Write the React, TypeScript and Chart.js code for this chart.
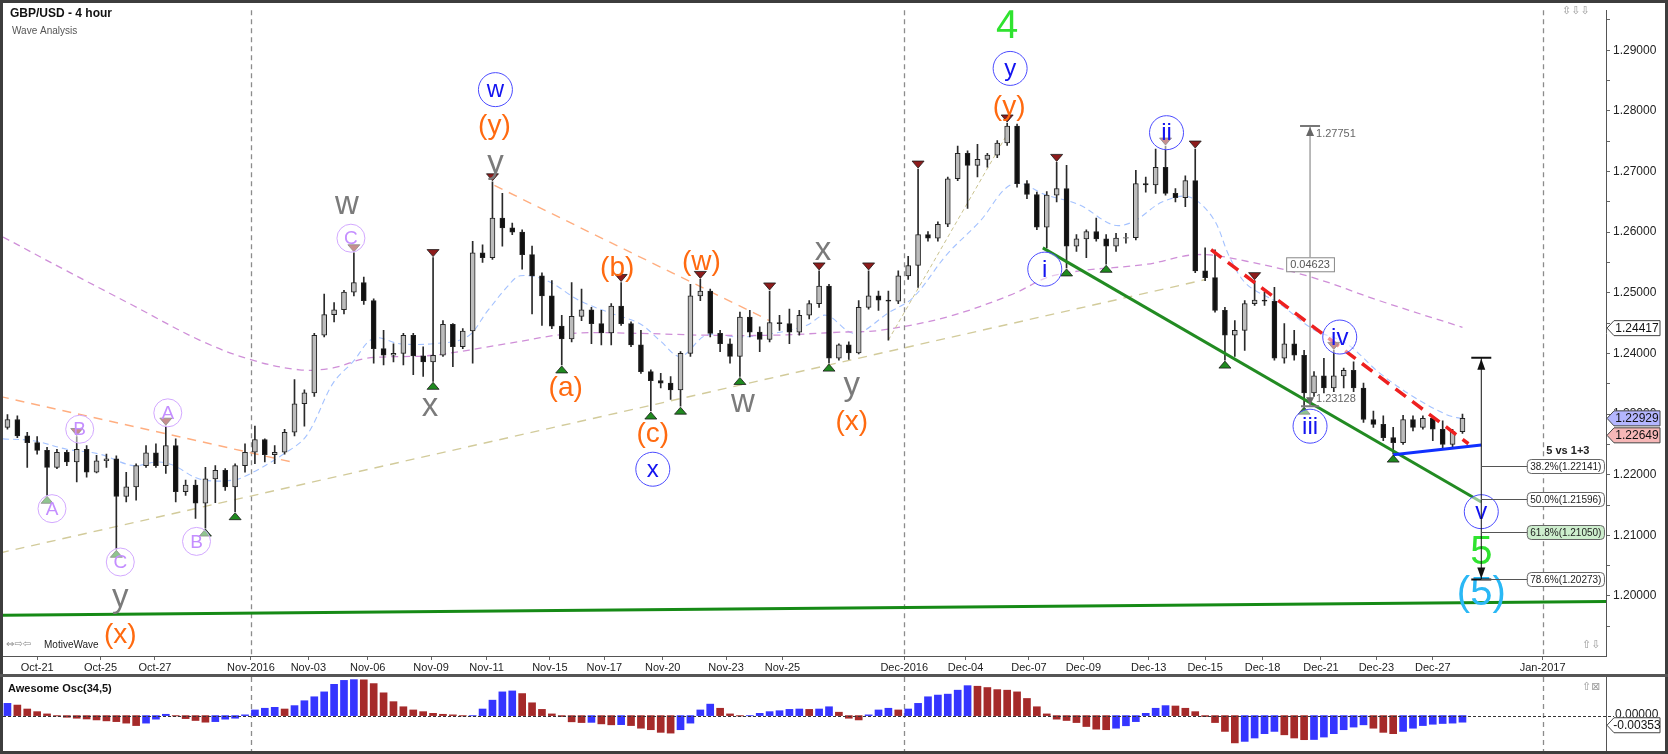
import React, { useEffect, useRef } from 'react';
import { Chart, registerables } from 'chart.js';

Chart.register(...registerables);

// ---- price data: one candle per two 4-hour bars (index 0 = Oct-20) ----
const candleOpen = [
  1.2278, 1.2291, 1.2264, 1.2253, 1.2240, 1.2212, 1.2237, 1.2221, 1.2242, 1.2204,
  1.2223, 1.2226, 1.2164, 1.2180, 1.2215, 1.2236, 1.2215, 1.2248, 1.2172, 1.2183,
  1.2153, 1.2193, 1.2207, 1.2180, 1.2215, 1.2237, 1.2258, 1.2233, 1.2237, 1.2270,
  1.2317, 1.2335, 1.2430, 1.2464, 1.2472, 1.2501, 1.2517, 1.2487, 1.2408, 1.2397,
  1.2400, 1.2430, 1.2396, 1.2386, 1.2397, 1.2448, 1.2411, 1.2437, 1.2566, 1.2558,
  1.2623, 1.2607, 1.2600, 1.2563, 1.2528, 1.2495, 1.2445, 1.2424, 1.2461, 1.2472,
  1.2449, 1.2434, 1.2478, 1.2449, 1.2414, 1.2370, 1.2355, 1.2351, 1.2340, 1.2400,
  1.2495, 1.2503, 1.2433, 1.2416, 1.2395, 1.2460, 1.2435, 1.2423, 1.2451, 1.2449,
  1.2435, 1.2463, 1.2482, 1.2511, 1.2392, 1.2414, 1.2401, 1.2476, 1.2495, 1.2488,
  1.2486, 1.2528, 1.2545, 1.2596, 1.2590, 1.2613, 1.2688, 1.2730, 1.2710, 1.2720,
  1.2727, 1.2747, 1.2775, 1.2680, 1.2662, 1.2608, 1.2661, 1.2672, 1.2577, 1.2589,
  1.2601, 1.2589, 1.2577, 1.2590, 1.2591, 1.2680, 1.2678, 1.2707, 1.2664, 1.2657,
  1.2685, 1.2536, 1.2525, 1.2471, 1.2430, 1.2438, 1.2482, 1.2488, 1.2486, 1.2392,
  1.2416, 1.2397, 1.2335, 1.2363, 1.2343, 1.2363, 1.2372, 1.2343, 1.2291, 1.2283,
  1.2261, 1.2253, 1.2291, 1.2278, 1.2293, 1.2275, 1.2250, 1.2271,
];
const candleHigh = [
  1.2299, 1.2297, 1.2270, 1.2263, 1.2245, 1.2242, 1.2240, 1.2263, 1.2248, 1.2232,
  1.2234, 1.2231, 1.2204, 1.2218, 1.2248, 1.2251, 1.2280, 1.2259, 1.2191, 1.2191,
  1.2212, 1.2215, 1.2210, 1.2218, 1.2251, 1.2280, 1.2259, 1.2248, 1.2275, 1.2357,
  1.2340, 1.2433, 1.2498, 1.2484, 1.2504, 1.2566, 1.2526, 1.2490, 1.2438, 1.2416,
  1.2433, 1.2433, 1.2411, 1.2558, 1.2454, 1.2449, 1.2441, 1.2585, 1.2579, 1.2683,
  1.2664, 1.2615, 1.2604, 1.2577, 1.2533, 1.2520, 1.2463, 1.2517, 1.2506, 1.2476,
  1.2471, 1.2482, 1.2517, 1.2452, 1.2438, 1.2373, 1.2367, 1.2362, 1.2403, 1.2514,
  1.2522, 1.2506, 1.2438, 1.2424, 1.2468, 1.2471, 1.2444, 1.2503, 1.2463, 1.2473,
  1.2471, 1.2487, 1.2536, 1.2514, 1.2416, 1.2419, 1.2487, 1.2536, 1.2503, 1.2503,
  1.2536, 1.2560, 1.2704, 1.2601, 1.2617, 1.2691, 1.2742, 1.2734, 1.2745, 1.2730,
  1.2751, 1.2780, 1.2778, 1.2685, 1.2666, 1.2667, 1.2715, 1.2710, 1.2596, 1.2604,
  1.2623, 1.2596, 1.2598, 1.2598, 1.2702, 1.2691, 1.2737, 1.2742, 1.2672, 1.2693,
  1.2737, 1.2574, 1.2571, 1.2476, 1.2454, 1.2487, 1.2520, 1.2501, 1.2509, 1.2449,
  1.2438, 1.2405, 1.2370, 1.2392, 1.2405, 1.2376, 1.2386, 1.2351, 1.2305, 1.2297,
  1.2278, 1.2298, 1.2297, 1.2297, 1.2296, 1.2289, 1.2275, 1.2300,
];
const candleLow = [
  1.2275, 1.2261, 1.2212, 1.2234, 1.2166, 1.2210, 1.2215, 1.2188, 1.2196, 1.2203,
  1.2212, 1.2077, 1.2155, 1.2158, 1.2212, 1.2212, 1.2202, 1.2155, 1.2166, 1.2128,
  1.2112, 1.2154, 1.2174, 1.2139, 1.2204, 1.2218, 1.2221, 1.2218, 1.2234, 1.2264,
  1.2280, 1.2329, 1.2427, 1.2452, 1.2465, 1.2495, 1.2481, 1.2384, 1.2381, 1.2386,
  1.2381, 1.2365, 1.2362, 1.2354, 1.2395, 1.2378, 1.2408, 1.2384, 1.2550, 1.2555,
  1.2577, 1.2596, 1.2539, 1.2465, 1.2446, 1.2441, 1.2381, 1.2419, 1.2454, 1.2416,
  1.2414, 1.2414, 1.2446, 1.2411, 1.2367, 1.2305, 1.2343, 1.2324, 1.2313, 1.2395,
  1.2487, 1.2427, 1.2403, 1.2384, 1.2362, 1.2427, 1.2403, 1.2419, 1.2438, 1.2416,
  1.2430, 1.2457, 1.2476, 1.2384, 1.2389, 1.2390, 1.2399, 1.2473, 1.2471, 1.2422,
  1.2482, 1.2522, 1.2509, 1.2585, 1.2585, 1.2609, 1.2685, 1.2639, 1.2691, 1.2707,
  1.2723, 1.2743, 1.2674, 1.2655, 1.2604, 1.2574, 1.2650, 1.2541, 1.2568, 1.2558,
  1.2585, 1.2547, 1.2568, 1.2582, 1.2587, 1.2666, 1.2664, 1.2661, 1.2650, 1.2642,
  1.2533, 1.2520, 1.2468, 1.2389, 1.2395, 1.2405, 1.2479, 1.2479, 1.2389, 1.2384,
  1.2389, 1.2313, 1.2329, 1.2335, 1.2337, 1.2343, 1.2337, 1.2286, 1.2278, 1.2256,
  1.2234, 1.2250, 1.2272, 1.2275, 1.2256, 1.2242, 1.2245, 1.2268,
];
const candleClose = [
  1.2291, 1.2264, 1.2253, 1.2240, 1.2212, 1.2237, 1.2221, 1.2242, 1.2204, 1.2223,
  1.2226, 1.2164, 1.2180, 1.2215, 1.2236, 1.2215, 1.2248, 1.2172, 1.2183, 1.2153,
  1.2193, 1.2207, 1.2180, 1.2215, 1.2237, 1.2258, 1.2233, 1.2237, 1.2270, 1.2317,
  1.2335, 1.2430, 1.2464, 1.2472, 1.2501, 1.2517, 1.2487, 1.2408, 1.2397, 1.2400,
  1.2430, 1.2396, 1.2386, 1.2397, 1.2448, 1.2411, 1.2437, 1.2566, 1.2558, 1.2623,
  1.2607, 1.2600, 1.2563, 1.2528, 1.2495, 1.2445, 1.2424, 1.2461, 1.2472, 1.2449,
  1.2434, 1.2478, 1.2449, 1.2414, 1.2370, 1.2355, 1.2351, 1.2340, 1.2400, 1.2495,
  1.2503, 1.2433, 1.2416, 1.2395, 1.2460, 1.2435, 1.2423, 1.2451, 1.2449, 1.2435,
  1.2463, 1.2482, 1.2511, 1.2392, 1.2414, 1.2401, 1.2476, 1.2495, 1.2488, 1.2486,
  1.2528, 1.2545, 1.2596, 1.2590, 1.2613, 1.2688, 1.2730, 1.2710, 1.2720, 1.2727,
  1.2747, 1.2775, 1.2680, 1.2662, 1.2608, 1.2661, 1.2672, 1.2577, 1.2589, 1.2601,
  1.2589, 1.2577, 1.2590, 1.2591, 1.2680, 1.2678, 1.2707, 1.2664, 1.2657, 1.2685,
  1.2536, 1.2525, 1.2471, 1.2430, 1.2438, 1.2482, 1.2488, 1.2486, 1.2392, 1.2416,
  1.2397, 1.2335, 1.2363, 1.2343, 1.2363, 1.2372, 1.2343, 1.2291, 1.2283, 1.2261,
  1.2253, 1.2291, 1.2278, 1.2293, 1.2275, 1.2250, 1.2271, 1.2293,
];

// Awesome Oscillator (34,5), one value per candle
const aoValues = [
  0.0065, 0.0056, 0.0035, 0.0021, 0.0009, -0.0002, -0.0009, -0.0014, -0.0018, -0.0023,
  -0.0028, -0.0032, -0.0040, -0.0053, -0.0040, -0.0019, 0.0007, -0.0002, -0.0016, -0.0026,
  -0.0035, -0.0032, -0.0019, -0.0014, 0.0004, 0.0030, 0.0039, 0.0044, 0.0035, 0.0053,
  0.0079, 0.0100, 0.0126, 0.0166, 0.0187, 0.0191, 0.0190, 0.0170, 0.0121, 0.0074,
  0.0047, 0.0030, 0.0021, 0.0012, 0.0007, 0.0004, -0.0002, -0.0001, 0.0035, 0.0082,
  0.0126, 0.0131, 0.0117, 0.0068, 0.0033, 0.0009, -0.0005, -0.0033, -0.0037, -0.0036,
  -0.0044, -0.0049, -0.0048, -0.0053, -0.0067, -0.0075, -0.0089, -0.0093, -0.0075, -0.0040,
  0.0030, 0.0061, 0.0039, 0.0009, -0.0002, -0.0001, 0.0012, 0.0021, 0.0026, 0.0033,
  0.0035, 0.0033, 0.0035, 0.0047, 0.0018, -0.0014, -0.0023, 0.0004, 0.0030, 0.0039,
  0.0030, 0.0035, 0.0065, 0.0100, 0.0109, 0.0114, 0.0135, 0.0159, 0.0156, 0.0149,
  0.0138, 0.0135, 0.0126, 0.0091, 0.0047, 0.0009, -0.0019, -0.0026, -0.0037, -0.0058,
  -0.0072, -0.0075, -0.0067, -0.0054, -0.0032, 0.0012, 0.0039, 0.0053, 0.0051, 0.0039,
  0.0021, -0.0005, -0.0037, -0.0084, -0.0145, -0.0137, -0.0119, -0.0096, -0.0084, -0.0102,
  -0.0119, -0.0128, -0.0127, -0.0114, -0.0096, -0.0075, -0.0061, -0.0049, -0.0067, -0.0089,
  -0.0096, -0.0084, -0.0067, -0.0053, -0.0046, -0.0042, -0.0040, -0.0035,
];

// x axis (candle index units) tick positions and their labels
const xTickPositions = [3.0, 9.4, 14.9, 24.6, 30.4, 36.4, 42.8, 48.4, 54.8, 60.3, 66.2, 72.6, 78.3, 90.6, 96.8, 103.2, 108.7, 115.3, 121.0, 126.8, 132.7, 138.3, 144.0, 155.1];
const xTickLabels = ['Oct-21', 'Oct-25', 'Oct-27', 'Nov-2016', 'Nov-03', 'Nov-06', 'Nov-09', 'Nov-11', 'Nov-15', 'Nov-17', 'Nov-20', 'Nov-23', 'Nov-25', 'Dec-2016', 'Dec-04', 'Dec-07', 'Dec-09', 'Dec-13', 'Dec-15', 'Dec-18', 'Dec-21', 'Dec-23', 'Dec-27', 'Jan-2017'];
const priceTickLabels = [1.20, 1.21, 1.22, 1.23, 1.24, 1.25, 1.26, 1.27, 1.28, 1.29];

// moving averages [candle index, price]
const fastMa = [[-0.45, 1.2259], [2.6, 1.2256], [6.0, 1.2242], [9.3, 1.2234], [12.7, 1.2215], [15.1, 1.2221], [16.7, 1.2216], [19.4, 1.2193], [22.8, 1.2191], [24.8, 1.2204], [27.9, 1.2234], [30.2, 1.2264], [32.9, 1.2351], [34.9, 1.2386], [37.0, 1.2425], [39.6, 1.2416], [43.0, 1.2416], [46.4, 1.2427], [48.5, 1.2470], [50.5, 1.2510], [51.8, 1.2528], [54.5, 1.2520], [57.8, 1.2487], [61.2, 1.2465], [63.9, 1.2449], [66.0, 1.2420], [68.0, 1.2395], [70.6, 1.2430], [74.0, 1.2427], [77.4, 1.2433], [80.7, 1.2446], [82.7, 1.2463], [85.6, 1.2433], [89.1, 1.2468], [91.5, 1.2492], [94.9, 1.2563], [98.2, 1.2617], [101.6, 1.2680], [105.0, 1.2661], [108.3, 1.2645], [111.7, 1.2612], [113.7, 1.2617], [116.7, 1.2650], [119.4, 1.2658], [121.8, 1.2623], [123.5, 1.2558], [125.2, 1.2514], [128.5, 1.2482], [131.9, 1.2440], [135.3, 1.2416], [138.6, 1.2368], [142.0, 1.2329], [145.4, 1.2299], [147.0, 1.2292]];
const slowMa = [[-0.45, 1.2592], [6.0, 1.2536], [12.7, 1.2479], [19.4, 1.2422], [24.5, 1.2390], [29.5, 1.2373], [32.9, 1.2376], [36.3, 1.2392], [43.0, 1.2397], [50.4, 1.2416], [57.1, 1.2433], [63.9, 1.2433], [70.6, 1.2430], [77.4, 1.2430], [84.1, 1.2435], [88.1, 1.2438], [94.9, 1.2460], [101.6, 1.2498], [105.0, 1.2525], [108.3, 1.2536], [115.1, 1.2547], [120.2, 1.2563], [125.2, 1.2552], [131.9, 1.2525], [138.6, 1.2487], [147.0, 1.2443]];

// trend lines [candle index, price]
const beigeLongLine = [[-0.76, 1.2071], [121.1, 1.2522]];
const beigeShortLine = [[89.0, 1.2422], [101.3, 1.2770]];
const orangeLine1 = [[-0.76, 1.2329], [28.7, 1.2221]];
const orangeLine2 = [[49.2, 1.2677], [77.0, 1.2454]];
const greenSupport = [[-0.45, 1.1968], [161.5, 1.1991]];
const greenChannel = [[104.6, 1.2574], [148.9, 1.2155]];
const blueLine = [[140.0, 1.2233], [148.9, 1.2249]];
const redResistance = [[121.6, 1.2571], [147.6, 1.2251]];

// swing markers (candle indices)
const swingLows = [4, 11, 20, 23, 43, 56, 65, 68, 74, 83, 107, 111, 123, 131, 140];
const swingHighs = [7, 16, 35, 43, 49, 62, 70, 77, 82, 87, 92, 101, 106, 117, 120, 126, 134];

// wave labels
const waveLabels = [
  { t: '4', k: 101.0, p: 1.2938, s: 'green' },
  { t: '5', k: 148.9, p: 1.2071, s: 'green' },
  { t: '(5)', k: 148.9, p: 1.2004, s: 'cyan' },
  { t: 'y', k: 101.3, p: 1.2870, s: 'blue' },
  { t: 'ii', k: 117.1, p: 1.2764, s: 'blue' },
  { t: 'i', k: 104.8, p: 1.2539, s: 'blue' },
  { t: 'iii', k: 131.6, p: 1.2280, s: 'blue' },
  { t: 'iv', k: 134.6, p: 1.2427, s: 'blue' },
  { t: 'v', k: 148.9, p: 1.2139, s: 'blue' },
  { t: 'w', k: 49.3, p: 1.2835, s: 'blue' },
  { t: 'x', k: 65.2, p: 1.2209, s: 'blue' },
  { t: '(y)', k: 101.2, p: 1.2806, s: 'orange' },
  { t: '(y)', k: 49.2, p: 1.2775, s: 'orange' },
  { t: '(a)', k: 56.4, p: 1.2343, s: 'orange' },
  { t: '(b)', k: 61.6, p: 1.2541, s: 'orange' },
  { t: '(c)', k: 65.2, p: 1.2267, s: 'orange' },
  { t: '(w)', k: 70.1, p: 1.2550, s: 'orange' },
  { t: '(x)', k: 85.3, p: 1.2286, s: 'orange' },
  { t: '(x)', k: 11.4, p: 1.1935, s: 'orange' },
  { t: 'y', k: 49.3, p: 1.2713, s: 'gray' },
  { t: 'w', k: 34.3, p: 1.2645, s: 'gray' },
  { t: 'x', k: 42.7, p: 1.2312, s: 'gray' },
  { t: 'w', k: 74.3, p: 1.2318, s: 'gray' },
  { t: 'x', k: 82.4, p: 1.2569, s: 'gray' },
  { t: 'y', k: 85.3, p: 1.2346, s: 'gray' },
  { t: 'y', k: 11.4, p: 1.1996, s: 'gray' },
  { t: 'C', k: 34.7, p: 1.2590, s: 'purple' },
  { t: 'A', k: 4.5, p: 1.2144, s: 'purple' },
  { t: 'B', k: 7.3, p: 1.2275, s: 'purple' },
  { t: 'A', k: 16.2, p: 1.2302, s: 'purple' },
  { t: 'B', k: 19.1, p: 1.2090, s: 'purple' },
  { t: 'C', k: 11.4, p: 1.2056, s: 'purple' },
];

// measurement tools
const measureGray = { k: 131.6, from: 1.23128, to: 1.27751, boxAt: 1.2547 };
const measureBlack = { k: 148.9, from: 1.2027, to: 1.2393 };
const fibRatios = [0.382, 0.5, 0.618, 0.786];
const fibPrices = [1.22141, 1.21596, 1.2105, 1.20273];
const priceTags = [1.24417, 1.22929, 1.22649];
const aoLast = -0.00353;

// ---- layout / style ----
const W = 1668;
const MAIN_H = 676;
const OSC_H = 78;
const X_MIN = -0.45;
const X_MAX = 161.5;
const Y_MIN = 1.1901;
const Y_MAX = 1.2966;
const AO_MIN = -0.0188;
const AO_MAX = 0.0205;
const FONT = '"Liberation Sans", Arial, Helvetica, sans-serif';

const LABEL_STYLE: Record<string, { color: string; size: number; circle: number; ring?: string }> = {
  green: { color: '#2fe32f', size: 40, circle: 0 },
  cyan: { color: '#2ab8f5', size: 40, circle: 0 },
  blue: { color: '#1414f0', size: 24, circle: 17, ring: '#4b4bff' },
  orange: { color: '#ff6a10', size: 28, circle: 0 },
  gray: { color: '#7b7b7b', size: 33, circle: 0 },
  purple: { color: '#c48eff', size: 19, circle: 14, ring: '#d2a8ff' },
};

const monthLines = xTickPositions.filter((_, i) => /\d{4}/.test(xTickLabels[i]));
const toXY = (pts: number[][]) => pts.map(([x, y]) => ({ x, y }));

function line(ctx: CanvasRenderingContext2D, x1: number, y1: number, x2: number, y2: number) {
  ctx.beginPath();
  ctx.moveTo(x1, y1);
  ctx.lineTo(x2, y2);
  ctx.stroke();
}

function rrect(ctx: CanvasRenderingContext2D, x: number, y: number, w: number, h: number, r: number) {
  ctx.beginPath();
  ctx.moveTo(x + r, y);
  ctx.lineTo(x + w - r, y);
  ctx.quadraticCurveTo(x + w, y, x + w, y + r);
  ctx.lineTo(x + w, y + h - r);
  ctx.quadraticCurveTo(x + w, y + h, x + w - r, y + h);
  ctx.lineTo(x + r, y + h);
  ctx.quadraticCurveTo(x, y + h, x, y + h - r);
  ctx.lineTo(x, y + r);
  ctx.quadraticCurveTo(x, y, x + r, y);
  ctx.closePath();
}

function tri(ctx: CanvasRenderingContext2D, x: number, yApex: number, up: boolean, color: string) {
  const w = 6;
  const h = 7;
  ctx.beginPath();
  ctx.moveTo(x, yApex);
  ctx.lineTo(x - w, up ? yApex + h : yApex - h);
  ctx.lineTo(x + w, up ? yApex + h : yApex - h);
  ctx.closePath();
  ctx.fillStyle = color;
  ctx.fill();
  ctx.strokeStyle = '#1a1a1a';
  ctx.lineWidth = 0.8;
  ctx.stroke();
}

function tag(ctx: CanvasRenderingContext2D, xLeft: number, yc: number, text: string, fill: string) {
  const h = 15;
  const tip = 7;
  const w = 46;
  ctx.beginPath();
  ctx.moveTo(xLeft, yc);
  ctx.lineTo(xLeft + tip, yc - h / 2);
  ctx.lineTo(xLeft + tip + w, yc - h / 2);
  ctx.lineTo(xLeft + tip + w, yc + h / 2);
  ctx.lineTo(xLeft + tip, yc + h / 2);
  ctx.closePath();
  ctx.fillStyle = fill;
  ctx.fill();
  ctx.strokeStyle = '#444';
  ctx.lineWidth = 1;
  ctx.stroke();
  ctx.fillStyle = '#111';
  ctx.font = `12px ${FONT}`;
  ctx.textAlign = 'center';
  ctx.textBaseline = 'middle';
  ctx.fillText(text, xLeft + tip + w / 2, yc + 0.5);
}

const mainOverlay = {
  id: 'mainOverlay',
  beforeDatasetsDraw(chart: any) {
    const { ctx, chartArea: a, scales } = chart;
    ctx.save();
    ctx.strokeStyle = '#8c8c8c';
    ctx.lineWidth = 1.3;
    ctx.setLineDash([5, 4]);
    monthLines.forEach((v) => {
      const px = Math.round(scales.x.getPixelForValue(v)) + 0.5;
      line(ctx, px, a.top, px, a.bottom);
    });
    ctx.restore();
  },
  afterDatasetsDraw(chart: any) {
    const { ctx, chartArea: a, scales } = chart;
    const X = (v: number) => scales.x.getPixelForValue(v);
    const Y = (v: number) => scales.y.getPixelForValue(v);
    ctx.save();
    ctx.beginPath();
    ctx.rect(a.left, a.top, a.right - a.left, a.bottom - a.top);
    ctx.clip();

    // swing markers
    swingLows.forEach((i) => tri(ctx, X(i), Y(candleLow[i]) + 1, true, '#1f8a1f'));
    swingHighs.forEach((i) => tri(ctx, X(i), Y(candleHigh[i]) - 1, false, '#8e1c1c'));

    // gray measurement
    ctx.setLineDash([]);
    const gx = X(measureGray.k);
    const gt = Y(measureGray.to);
    const gb = Y(measureGray.from);
    ctx.strokeStyle = '#777';
    ctx.lineWidth = 1;
    line(ctx, gx, gt, gx, gb);
    ctx.lineWidth = 2;
    line(ctx, gx - 10, gt, gx + 10, gt);
    line(ctx, gx - 9, gb, gx + 9, gb);
    ctx.fillStyle = '#666';
    ctx.beginPath(); ctx.moveTo(gx, gt + 1); ctx.lineTo(gx - 4, gt + 10); ctx.lineTo(gx + 4, gt + 10); ctx.closePath(); ctx.fill();
    ctx.beginPath(); ctx.moveTo(gx, gb - 1); ctx.lineTo(gx - 4, gb - 9); ctx.lineTo(gx + 4, gb - 9); ctx.closePath(); ctx.fill();
    ctx.font = `11px ${FONT}`;
    ctx.textAlign = 'left';
    ctx.textBaseline = 'middle';
    ctx.fillStyle = '#666';
    ctx.fillText(measureGray.to.toFixed(5), gx + 6, gt + 8);
    ctx.fillText(measureGray.from.toFixed(5), gx + 6, gb - 7);
    const diff = (measureGray.to - measureGray.from).toFixed(5);
    const by = Y(measureGray.boxAt);
    const dw = ctx.measureText(diff).width + 8;
    ctx.fillStyle = '#fff';
    ctx.fillRect(gx - dw / 2, by - 7, dw, 14);
    ctx.strokeStyle = '#888';
    ctx.lineWidth = 1;
    ctx.strokeRect(gx - dw / 2 + 0.5, by - 7 + 0.5, dw, 14);
    ctx.fillStyle = '#555';
    ctx.textAlign = 'center';
    ctx.fillText(diff, gx, by + 0.5);

    // wave labels
    waveLabels.forEach((l) => {
      const st = LABEL_STYLE[l.s];
      const x = X(l.k);
      const y = Y(l.p);
      if (st.circle) {
        ctx.beginPath();
        ctx.arc(x, y, st.circle, 0, Math.PI * 2);
        ctx.fillStyle = 'rgba(255,255,255,0.5)';
        ctx.fill();
        ctx.lineWidth = 1;
        ctx.strokeStyle = st.ring;
        ctx.stroke();
      }
      ctx.font = `${st.size}px ${FONT}`;
      ctx.fillStyle = st.color;
      ctx.textAlign = 'center';
      ctx.textBaseline = 'middle';
      ctx.fillText(l.t, x, y + (st.circle ? 1 : 0));
    });

    // black measurement
    const bx = X(measureBlack.k);
    const bt = Y(measureBlack.to);
    const bb = Y(measureBlack.from);
    ctx.strokeStyle = '#111';
    ctx.lineWidth = 1;
    line(ctx, bx, bt, bx, bb);
    ctx.lineWidth = 2;
    line(ctx, bx - 10, bt, bx + 10, bt);
    line(ctx, bx - 10, bb, bx + 10, bb);
    ctx.fillStyle = '#111';
    ctx.beginPath(); ctx.moveTo(bx, bt + 1); ctx.lineTo(bx - 4, bt + 12); ctx.lineTo(bx + 4, bt + 12); ctx.closePath(); ctx.fill();
    ctx.beginPath(); ctx.moveTo(bx, bb - 1); ctx.lineTo(bx - 4, bb - 12); ctx.lineTo(bx + 4, bb - 12); ctx.closePath(); ctx.fill();
    ctx.restore();

    // fib levels
    ctx.save();
    const boxLeft = bx + 46;
    ctx.font = `10px ${FONT}`;
    fibPrices.forEach((p, i) => {
      const y = Math.round(Y(p)) + 0.5;
      ctx.strokeStyle = '#555';
      ctx.lineWidth = 1;
      line(ctx, bx, y, boxLeft, y);
      const txt = `${(fibRatios[i] * 100).toFixed(1)}%(${p.toFixed(5)})`;
      const w = ctx.measureText(txt).width + 6;
      rrect(ctx, boxLeft, y - 7, w, 14, 4);
      ctx.fillStyle = i === 2 ? '#cdeecd' : '#ffffff';
      ctx.fill();
      ctx.strokeStyle = '#666';
      ctx.stroke();
      ctx.fillStyle = '#222';
      ctx.textAlign = 'left';
      ctx.textBaseline = 'middle';
      ctx.fillText(txt, boxLeft + 3, y + 0.5);
      if (i === 0) {
        ctx.font = `bold 11px ${FONT}`;
        ctx.textAlign = 'center';
        ctx.fillText('5 vs 1+3', boxLeft + w / 2 + 2, y - 16);
        ctx.font = `10px ${FONT}`;
      }
    });
    ctx.restore();
  },
  afterDraw(chart: any) {
    const { ctx, scales } = chart;
    const Y = (v: number) => scales.y.getPixelForValue(v);
    ctx.save();
    ctx.fillStyle = '#3d3d3d';
    ctx.fillRect(0, 0, W, 3);
    ctx.fillRect(0, 0, 3, MAIN_H);
    ctx.fillRect(W - 3, 0, 3, MAIN_H);
    ctx.fillStyle = '#555';
    ctx.fillRect(0, MAIN_H - 2, W, 2);

    ctx.fillStyle = '#111';
    ctx.font = `bold 12px ${FONT}`;
    ctx.textAlign = 'left';
    ctx.textBaseline = 'middle';
    ctx.fillText('GBP/USD - 4 hour', 10, 14);
    ctx.fillStyle = '#555';
    ctx.font = `10px ${FONT}`;
    ctx.fillText('Wave Analysis', 12, 31);

    ctx.fillStyle = '#888';
    ctx.font = `10px "DejaVu Sans", sans-serif`;
    ctx.fillText('⇔⇨⇦', 6, 644);
    ctx.fillStyle = '#222';
    ctx.font = `10px ${FONT}`;
    ctx.fillText('MotiveWave', 44, 645);
    ctx.fillStyle = '#999';
    ctx.font = `11px "DejaVu Sans", sans-serif`;
    ctx.fillText('⇧⇩', 1582, 645);
    ctx.fillText('⇳⇩⇩', 1562, 11);

    const fills = ['#ffffff', '#b4b6ff', '#f6b7b7'];
    const ax = scales.y.left + 1;
    priceTags.forEach((p, i) => tag(ctx, ax, Y(p), p.toFixed(5), fills[i]));
    ctx.restore();
  },
};

const oscOverlay = {
  id: 'oscOverlay',
  beforeDatasetsDraw(chart: any) {
    const { ctx, chartArea: a, scales } = chart;
    ctx.save();
    ctx.strokeStyle = '#8c8c8c';
    ctx.lineWidth = 1.3;
    ctx.setLineDash([5, 4]);
    monthLines.forEach((v) => {
      const px = Math.round(scales.x.getPixelForValue(v)) + 0.5;
      line(ctx, px, a.top, px, a.bottom);
    });
    ctx.restore();
  },
  afterDatasetsDraw(chart: any) {
    const { ctx, chartArea: a, scales } = chart;
    const y0 = Math.round(scales.y.getPixelForValue(0)) + 0.5;
    ctx.save();
    ctx.strokeStyle = '#333';
    ctx.lineWidth = 1;
    ctx.setLineDash([3, 2]);
    line(ctx, a.left, y0, a.right + 8, y0);
    ctx.restore();
  },
  afterDraw(chart: any) {
    const { ctx, scales } = chart;
    const Y = (v: number) => scales.y.getPixelForValue(v);
    ctx.save();
    ctx.fillStyle = '#3d3d3d';
    ctx.fillRect(0, 0, 3, OSC_H);
    ctx.fillRect(0, OSC_H - 3, W, 3);
    ctx.fillRect(W - 3, 0, 3, OSC_H);
    ctx.fillStyle = '#555';
    ctx.fillRect(0, 0, W, 1);

    ctx.fillStyle = '#111';
    ctx.font = `bold 11px ${FONT}`;
    ctx.textAlign = 'left';
    ctx.textBaseline = 'middle';
    ctx.fillText('Awesome Osc(34,5)', 8, 13);
    ctx.fillStyle = '#999';
    ctx.font = `11px "DejaVu Sans", sans-serif`;
    ctx.fillText('⇧⊠', 1582, 11);

    const ax = scales.y.left + 1;
    ctx.fillStyle = '#222';
    ctx.font = `12px ${FONT}`;
    ctx.fillText((0).toFixed(5), ax + 8, Y(0) - 1);
    tag(ctx, ax, Y(aoLast) + 3, aoLast.toFixed(5), '#ffffff');
    ctx.restore();
  },
};

export default function App() {
  const mainRef = useRef<HTMLCanvasElement>(null);
  const oscRef = useRef<HTMLCanvasElement>(null);

  useEffect(() => {
    document.body.style.margin = '0';
    document.body.style.background = '#ffffff';
    if (!mainRef.current || !oscRef.current) return;

    const bodyData = candleOpen.map((o, i) => ({ x: i, y: [o, candleClose[i]] }));
    const wickData = candleLow.map((l, i) => ({ x: i, y: [l, candleHigh[i]] }));
    const isUp = (i: number) => candleClose[i] >= candleOpen[i];

    const lineDs = (pts: number[][], color: string, width: number, dash: number[], order: number, smooth = false) => ({
      type: 'line' as const,
      data: toXY(pts),
      borderColor: color,
      borderWidth: width,
      borderDash: dash,
      pointRadius: 0,
      fill: false,
      tension: smooth ? 0.35 : 0,
      order,
    });

    const main = new Chart(mainRef.current, {
      type: 'bar',
      data: {
        datasets: [
          lineDs(slowMa, '#cf8fd8', 1.3, [7, 5], 8, true),
          lineDs(fastMa, '#a4c2ff', 1.1, [6, 4], 8, true),
          lineDs(beigeLongLine, '#d2cb9b', 1.4, [9, 7], 7),
          lineDs(beigeShortLine, '#c9c28e', 1, [4, 3], 7),
          lineDs(orangeLine1, '#ffae80', 1.4, [9, 7], 7),
          lineDs(orangeLine2, '#ffae80', 1.4, [9, 7], 7),
          {
            type: 'bar' as const,
            data: wickData,
            backgroundColor: '#2a2a2a',
            barThickness: 1,
            grouped: false,
            order: 6,
          },
          {
            type: 'bar' as const,
            data: bodyData,
            backgroundColor: (c: any) => (isUp(c.dataIndex) ? '#bcbcbc' : '#111111'),
            borderColor: '#222222',
            borderWidth: 1,
            borderSkipped: false,
            barThickness: 5,
            grouped: false,
            order: 5,
          },
          lineDs(greenSupport, '#168a16', 3, [], 2),
          lineDs(greenChannel, '#228b22', 3, [], 2),
          lineDs(redResistance, '#ee2020', 3.5, [13, 8], 1),
          lineDs(blueLine, '#1030ff', 3, [], 1),
        ] as any,
      },
      options: {
        animation: false,
        responsive: false,
        maintainAspectRatio: false,
        layout: { padding: { left: 3, top: 3, right: 0, bottom: 0 } },
        plugins: { legend: { display: false }, tooltip: { enabled: false } },
        scales: {
          x: {
            type: 'linear',
            min: X_MIN,
            max: X_MAX,
            offset: false,
            afterBuildTicks: (s: any) => {
              s.ticks = xTickPositions.map((v) => ({ value: v }));
            },
            afterFit: (s: any) => {
              s.height = 20;
            },
            ticks: {
              autoSkip: false,
              maxRotation: 0,
              minRotation: 0,
              padding: 1,
              color: '#222',
              font: { family: FONT, size: 11 },
              callback: (_v: any, i: number) => xTickLabels[i] ?? '',
            },
            grid: { display: true, drawOnChartArea: false, drawTicks: true, tickLength: 4, color: '#666', offset: false },
            border: { display: true, color: '#555', width: 1 },
          },
          y: {
            type: 'linear',
            position: 'right',
            min: Y_MIN,
            max: Y_MAX,
            afterBuildTicks: (s: any) => {
              const t: any[] = [];
              for (let i = 0; i <= 21; i++) t.push({ value: Math.round((1.19 + i * 0.005) * 1000) / 1000 });
              s.ticks = t.filter((o) => o.value >= Y_MIN && o.value <= Y_MAX);
            },
            afterFit: (s: any) => {
              s.width = W - 1606;
            },
            ticks: {
              padding: 3,
              color: '#222',
              font: { family: FONT, size: 12 },
              callback: (v: any) => (priceTickLabels.some((p) => Math.abs(p - Number(v)) < 1e-6) ? Number(v).toFixed(5) : ''),
            },
            grid: { display: true, drawOnChartArea: false, drawTicks: true, tickLength: 4, color: '#666' },
            border: { display: true, color: '#555', width: 1 },
          },
        },
      } as any,
      plugins: [mainOverlay],
    });

    const aoColor = (i: number) => (i === 0 || aoValues[i] > aoValues[i - 1] ? '#3535ff' : '#a52a2a');
    const osc = new Chart(oscRef.current, {
      type: 'bar',
      data: {
        datasets: [
          {
            data: aoValues.map((v, i) => ({ x: i, y: v })),
            backgroundColor: aoValues.map((_, i) => aoColor(i)),
            barThickness: 7,
            grouped: false,
          },
        ] as any,
      },
      options: {
        animation: false,
        responsive: false,
        maintainAspectRatio: false,
        layout: { padding: { left: 3, top: 1, right: 0, bottom: 3 } },
        plugins: { legend: { display: false }, tooltip: { enabled: false } },
        scales: {
          x: { type: 'linear', min: X_MIN, max: X_MAX, offset: false, display: false },
          y: {
            type: 'linear',
            position: 'right',
            min: AO_MIN,
            max: AO_MAX,
            afterFit: (s: any) => {
              s.width = W - 1606;
            },
            ticks: { display: false },
            grid: { display: false },
            border: { display: true, color: '#555', width: 1 },
          },
        },
      } as any,
      plugins: [oscOverlay],
    });

    return () => {
      main.destroy();
      osc.destroy();
    };
  }, []);

  return (
    <div style={{ position: 'relative', width: W, height: MAIN_H + OSC_H, background: '#fff', overflow: 'hidden' }}>
      <canvas ref={mainRef} width={W} height={MAIN_H} style={{ display: 'block', width: W, height: MAIN_H }} />
      <canvas ref={oscRef} width={W} height={OSC_H} style={{ display: 'block', width: W, height: OSC_H }} />
    </div>
  );
}
